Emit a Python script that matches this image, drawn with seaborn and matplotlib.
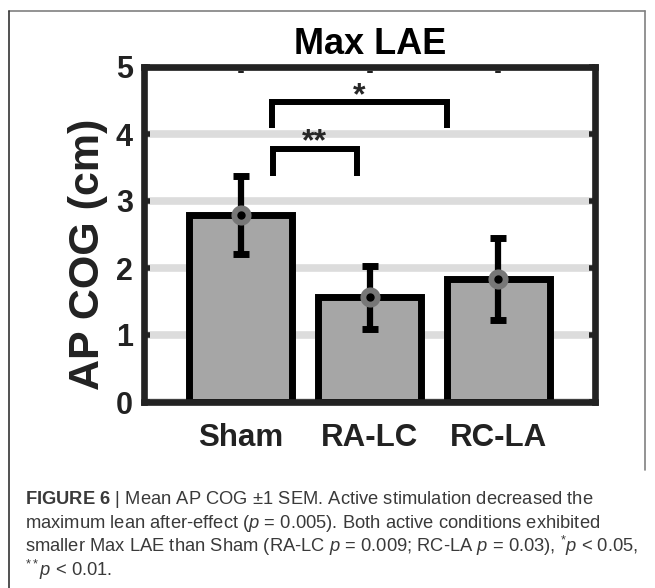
import matplotlib
matplotlib.use("Agg")
import matplotlib.pyplot as plt
from matplotlib.lines import Line2D
import seaborn as sns

# data
conditions = ["Sham", "RA-LC", "RC-LA"]
mean_cog = [2.79, 1.56, 1.84]
sem_cog = [0.58, 0.47, 0.61]
y_ticks = [0, 1, 2, 3, 4, 5]

# significance brackets: (x left, x right, y foot, y top, label)
brackets = [
    (0.25, 0.90, 3.38, 3.78, "**"),
    (0.24, 1.60, 4.09, 4.48, "*"),
]

caption_lines = [
    r"$\mathbf{FIGURE\ 6}$ | Mean AP COG $\pm$1 SEM. Active stimulation decreased the",
    r"maximum lean after-effect ($\mathit{p}$ = 0.005). Both active conditions exhibited",
    r"smaller Max LAE than Sham (RA-LC $\mathit{p}$ = 0.009; RC-LA $\mathit{p}$ = 0.03), $^{*}\mathit{p}$ < 0.05,",
    r"$^{**}\mathit{p}$ < 0.01.",
]

sns.set_theme(style="white")
plt.rcParams["font.family"] = ["Liberation Sans", "DejaVu Sans"]
plt.rcParams["mathtext.fontset"] = "custom"
plt.rcParams["mathtext.rm"] = "Liberation Sans"
plt.rcParams["mathtext.it"] = "Liberation Sans:italic"
plt.rcParams["mathtext.bf"] = "Liberation Sans:bold"

fig = plt.figure(figsize=(6.55, 5.88), dpi=100)
ax = fig.add_axes([144 / 655, 1 - 402 / 588, 451 / 655, 335 / 588])

sns.barplot(x=conditions, y=mean_cog, color="#a6a6a6", saturation=1,
            edgecolor="black", linewidth=5, width=0.8, errorbar=None,
            ax=ax, zorder=2)

xs = list(range(len(conditions)))
ax.errorbar(xs, mean_cog, yerr=sem_cog, fmt="none", ecolor="black",
            elinewidth=4.5, capsize=5.5, capthick=5, zorder=3)
ax.plot(xs, mean_cog, "o", color="#777777", markersize=14.5, mec="none", zorder=4)
ax.plot(xs, mean_cog, "o", color="black", markersize=5, zorder=5)

for x0, x1, yb, yt, lab in brackets:
    ax.plot([x0, x0, x1, x1], [yb, yt, yt, yb], color="black", lw=4.3,
            solid_joinstyle="miter", solid_capstyle="butt", zorder=3)
    ax.text((x0 + x1) / 2, yt - 0.03, lab, ha="center", va="baseline",
            fontsize=23, fontweight="bold", zorder=3)

ax.set_xlim(-0.75, 2.75)
ax.set_ylim(0, 5)
ax.set_yticks(y_ticks)
ax.set_yticklabels([str(t) for t in y_ticks])
ax.set_axisbelow(True)
ax.yaxis.grid(True, color="#dcdcdc", linewidth=5.5)
ax.xaxis.grid(False)

for sp in ax.spines.values():
    sp.set_visible(True)
    sp.set_linewidth(4.8)
    sp.set_color("#222222")

ax.tick_params(axis="both", direction="in", length=4, width=4, color="#222222",
               top=True, right=True, bottom=True, left=True)
ax.tick_params(axis="y", labelsize=22, pad=8)
ax.tick_params(axis="x", labelsize=22.5, pad=15)
for lab in ax.get_xticklabels() + ax.get_yticklabels():
    lab.set_fontweight("bold")
    lab.set_color("#222222")

ax.set_xlabel("")
ax.set_ylabel("AP COG (cm)", fontsize=31, fontweight="bold", color="#222222")
ax.yaxis.set_label_coords(-0.08, 0.442)

fig.text(370 / 655, 1 - 45 / 588, "Max LAE", ha="center", va="center",
         fontsize=26, fontweight="bold", color="black")

for i, line in enumerate(caption_lines):
    fig.text(25 / 655, 1 - (504 + 24 * i) / 588, line, ha="left", va="baseline",
             fontsize=13.2, color="#3a3a3a")

# outer frame of the figure panel
fig.add_artist(Line2D([9 / 655, 645 / 655], [1 - 11 / 588, 1 - 11 / 588],
                      transform=fig.transFigure, color="#808080", lw=1.2))
fig.add_artist(Line2D([9 / 655, 9 / 655], [1 - 11 / 588, 0],
                      transform=fig.transFigure, color="#333333", lw=1.2))
fig.add_artist(Line2D([645 / 655, 645 / 655], [1 - 11 / 588, 1 - 470 / 588],
                      transform=fig.transFigure, color="#808080", lw=1.2))

fig.savefig("out.png", dpi=100, facecolor="white")
